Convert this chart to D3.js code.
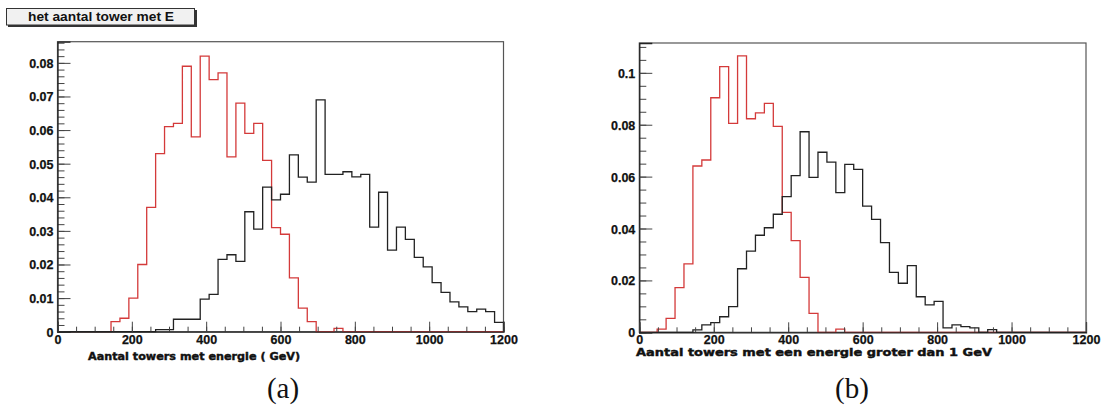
<!DOCTYPE html>
<html>
<head>
<meta charset="utf-8">
<script src="https://cdn.jsdelivr.net/npm/d3@7"></script>
<style>
  html, body { margin: 0; padding: 0; background: #fff; }
  svg { display: block; }
  .tick text { font-family: "Liberation Sans", Arial, sans-serif; font-weight: bold; font-size: 12.5px; fill: #111; stroke: #111; stroke-width: 0.25px; }
</style>
</head>
<body>
<svg id="chart" width="1109" height="408"></svg>
<script>
// 50 bins of 24 GeV-units over 0..1200 (bin i covers [24*i, 24*i+24))
const binEdges = d3.range(0, 1201, 24);

// panel (a): number of towers with energy
const towersAll_red = [
  0, 0, 0, 0, 0, 0, 0.003, 0.004, 0.010, 0.020,
  0.037, 0.053, 0.061, 0.062, 0.079, 0.058, 0.082, 0.075, 0.077, 0.052,
  0.068, 0.059, 0.062, 0.051, 0.031, 0.029, 0.016, 0.007, 0.003, 0,
  0, 0.001, 0, 0, 0, 0, 0, 0, 0, 0,
  0, 0, 0, 0, 0, 0, 0, 0, 0, 0
];
const towersAll_black = [
  0, 0, 0, 0, 0, 0, 0, 0, 0, 0,
  0, 0.0006, 0.0006, 0.0037, 0.0037, 0.0037, 0.0097, 0.0111, 0.0215, 0.0229,
  0.0209, 0.0357, 0.0305, 0.0430, 0.0392, 0.0409, 0.0526, 0.0460, 0.0445, 0.0690,
  0.0468, 0.0468, 0.0476, 0.0461, 0.0468, 0.0311, 0.0415, 0.0243, 0.0311, 0.0275,
  0.0221, 0.0193, 0.0146, 0.0117, 0.0089, 0.0074, 0.0060, 0.0067, 0.0060, 0.0028
];

// panel (b): number of towers with energy above 1 GeV
const towersAbove1_red = [
  0, 0, 0.0012, 0.0054, 0.0172, 0.0264, 0.0641, 0.0664, 0.0904, 0.1024,
  0.0805, 0.1065, 0.0823, 0.0846, 0.0882, 0.0794, 0.0462, 0.0353, 0.0212, 0.0073,
  0, 0, 0.0012, 0, 0, 0, 0, 0, 0, 0,
  0, 0, 0, 0, 0, 0, 0, 0, 0, 0,
  0, 0, 0, 0, 0, 0, 0, 0, 0, 0
];
const towersAbove1_black = [
  0, 0, 0, 0, 0, 0, 0.0009, 0.0029, 0.0037, 0.0060,
  0.0099, 0.0245, 0.0313, 0.0374, 0.0403, 0.0455, 0.0523, 0.0604, 0.0773, 0.0597,
  0.0694, 0.0656, 0.0538, 0.0647, 0.0628, 0.0486, 0.0435, 0.0346, 0.0231, 0.0189,
  0.0257, 0.0137, 0.0106, 0.0119, 0.0017, 0.0029, 0.0022, 0.0017, 0, 0.0010,
  0, 0, 0, 0, 0, 0, 0, 0, 0, 0
];

const xTicks = [0, 200, 400, 600, 800, 1000, 1200];
const yTicksA = [0, 0.01, 0.02, 0.03, 0.04, 0.05, 0.06, 0.07, 0.08];
const yTicksB = [0, 0.02, 0.04, 0.06, 0.08, 0.1];

const titleA = "Aantal towers met energie ( GeV)";
const titleB = "Aantal towers met een energie groter dan 1 GeV";
const statTitle = "het aantal tower met E";

const svg = d3.select("#chart");

function stepPath(values, x, y) {
  // histogram outline: horizontal run across every bin, vertical joins between bins
  let d = "";
  values.forEach((v, i) => {
    const x0 = x(binEdges[i]), x1 = x(binEdges[i + 1]), yy = y(v);
    d += (i === 0 ? `M${x0},${y(0)}V${yy}` : `V${yy}`) + `H${x1}`;
  });
  d += `V${y(0)}`;
  return d;
}

function panel(opts) {
  const { left, right, top, bottom, yMax, yTicks, yMinorStep, series, title, titleX, titleY, titleLen, caption, captionX } = opts;
  const x = d3.scaleLinear().domain([0, 1200]).range([left, right]);
  const y = d3.scaleLinear().domain([0, yMax]).range([bottom, top]);
  const g = svg.append("g");

  // frame
  g.append("rect")
    .attr("x", left).attr("y", top)
    .attr("width", right - left).attr("height", bottom - top)
    .attr("fill", "none").attr("stroke", "#555").attr("stroke-width", 1.2);

  // histograms
  series.forEach(s => {
    g.append("path")
      .attr("d", stepPath(s.values, x, y))
      .attr("fill", "none")
      .attr("stroke", s.color)
      .attr("stroke-width", 1.3)
      .attr("stroke-linejoin", "miter");
  });

  // minor ticks
  const yMinor = d3.range(0, yMax + 1e-9, yMinorStep);
  g.append("g").attr("transform", `translate(${left},0)`)
    .call(d3.axisLeft(y).tickValues(yMinor).tickSize(-7).tickFormat(""))
    .call(a => a.select(".domain").remove())
    .selectAll("line").attr("stroke", "#444");
  g.append("g").attr("transform", `translate(0,${bottom})`)
    .call(d3.axisBottom(x).tickValues(d3.range(0, 1201, 50)).tickSize(-5).tickFormat(""))
    .call(a => a.select(".domain").remove())
    .selectAll("line").attr("stroke", "#444");

  // major ticks + labels
  const ya = g.append("g").attr("transform", `translate(${left},0)`)
    .call(d3.axisLeft(y).tickValues(yTicks).tickSize(-13).tickPadding(4)
      .tickFormat(d => d === 0 ? "0" : d3.format("")(+d.toFixed(3))));
  ya.select(".domain").attr("stroke", "#222").attr("stroke-width", 1.3);
  ya.selectAll("line").attr("stroke", "#444");
  ya.selectAll("text").attr("dy", "0.36em");

  const xa = g.append("g").attr("transform", `translate(0,${bottom})`)
    .call(d3.axisBottom(x).tickValues(xTicks).tickSize(-10).tickPadding(3).tickFormat(d3.format("d")));
  xa.select(".domain").attr("stroke", "#222").attr("stroke-width", 1.3);
  xa.selectAll("line").attr("stroke", "#444");
  xa.selectAll("text").attr("dy", "0.71em");

  // axis title
  g.append("text")
    .attr("x", titleX).attr("y", titleY)
    .attr("textLength", titleLen).attr("lengthAdjust", "spacingAndGlyphs")
    .style("font-family", "'DejaVu Sans', sans-serif")
    .style("font-weight", "bold").style("font-size", "11px")
    .attr("fill", "#111").attr("stroke", "#111").attr("stroke-width", 0.45)
    .text(title);

  // caption
  g.append("text")
    .attr("x", captionX).attr("y", 398)
    .attr("text-anchor", "middle")
    .style("font-family", "'Liberation Serif', 'DejaVu Serif', serif")
    .style("font-size", "29px")
    .attr("fill", "#111")
    .text(caption);
}

panel({
  left: 57.5, right: 503.5, top: 41.7, bottom: 331.7, yMax: 0.0863,
  yTicks: yTicksA, yMinorStep: 0.002,
  series: [
    { values: towersAll_red, color: "#d43a3a" },
    { values: towersAll_black, color: "#222" }
  ],
  title: titleA, titleX: 88, titleY: 360, titleLen: 212,
  caption: "(a)", captionX: 283
});

panel({
  left: 639.3, right: 1086, top: 43, bottom: 332.3, yMax: 0.1115,
  yTicks: yTicksB, yMinorStep: 0.005,
  series: [
    { values: towersAbove1_red, color: "#d43a3a" },
    { values: towersAbove1_black, color: "#222" }
  ],
  title: titleB, titleX: 636, titleY: 356, titleLen: 356,
  caption: "(b)", captionX: 852
});

// statistics title box
const box = svg.append("g");
box.append("rect").attr("x", 8).attr("y", 10).attr("width", 189).attr("height", 17).attr("fill", "#333");
box.append("rect").attr("x", 6.5).attr("y", 8.5).attr("width", 188).attr("height", 16.5)
  .attr("fill", "#f1f1f1").attr("stroke", "#333").attr("stroke-width", 1);
box.append("text")
  .attr("x", 101).attr("y", 21)
  .attr("text-anchor", "middle")
  .attr("textLength", 146).attr("lengthAdjust", "spacingAndGlyphs")
  .style("font-family", "'Liberation Sans', Arial, sans-serif")
  .style("font-weight", "bold").style("font-size", "12.5px")
  .attr("fill", "#111")
  .text(statTitle);
</script>
</body>
</html>
